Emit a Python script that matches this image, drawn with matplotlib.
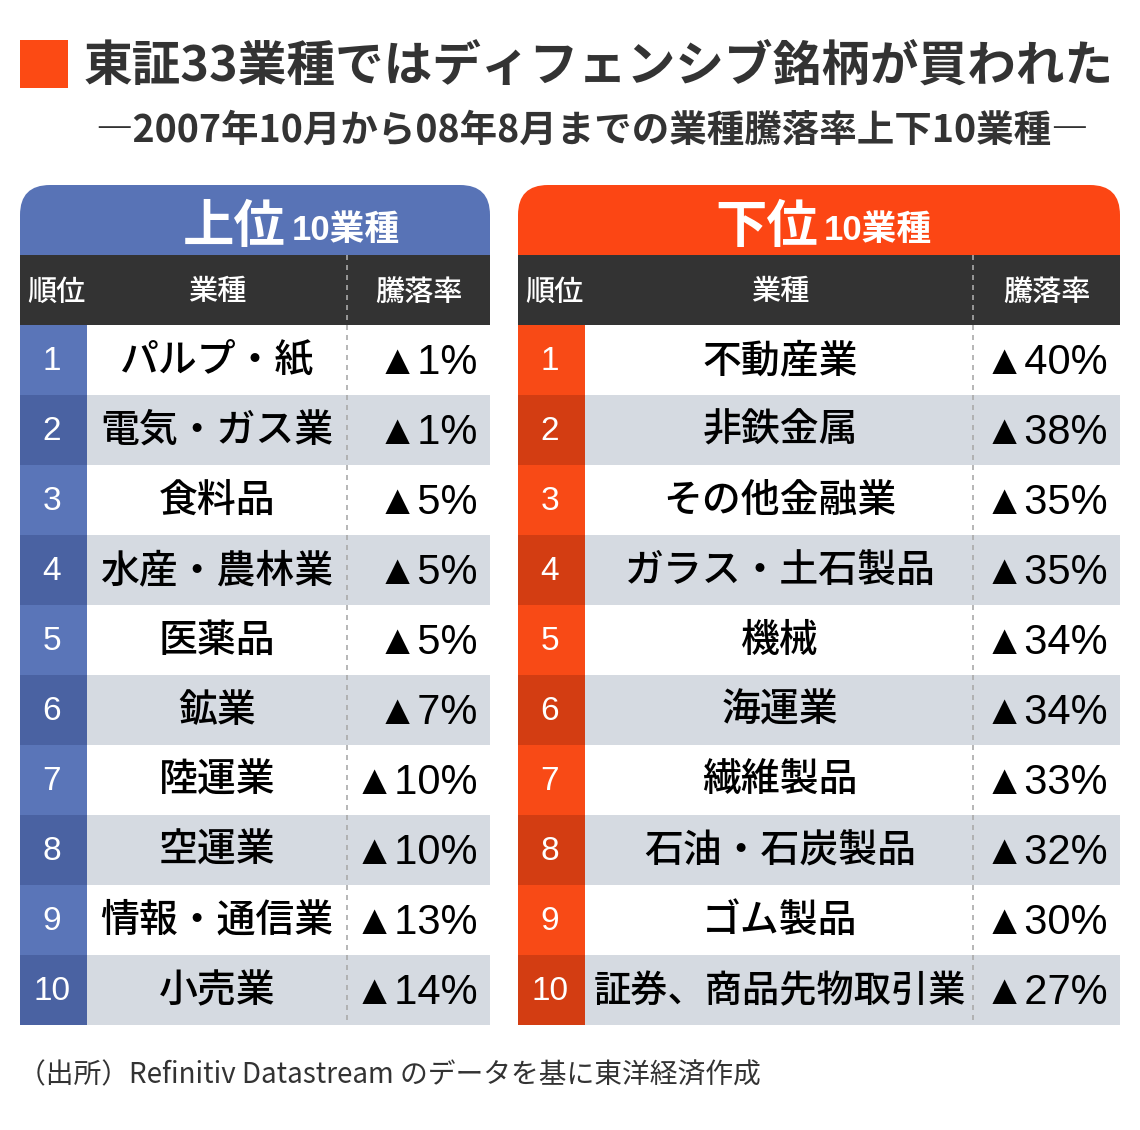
import matplotlib
matplotlib.use('Agg')
import matplotlib.pyplot as plt
from matplotlib.patches import Rectangle, FancyBboxPatch

plt.rcParams['font.family'] = ['Noto Sans CJK JP', 'DejaVu Sans']

# データ
title = '東証33業種ではディフェンシブ銘柄が買われた'
subtitle = '―2007年10月から08年8月までの業種騰落率上下10業種―'
source = '（出所）Refinitiv Datastream のデータを基に東洋経済作成'
col_labels = ['順位', '業種', '騰落率']
ranks = list(range(1, 11))
top_names = ['パルプ・紙', '電気・ガス業', '食料品', '水産・農林業', '医薬品',
             '鉱業', '陸運業', '空運業', '情報・通信業', '小売業']
top_vals = [1, 1, 5, 5, 5, 7, 10, 10, 13, 14]
bottom_names = ['不動産業', '非鉄金属', 'その他金融業', 'ガラス・土石製品', '機械',
                '海運業', '繊維製品', '石油・石炭製品', 'ゴム製品', '証券、商品先物取引業']
bottom_vals = [40, 38, 35, 35, 34, 34, 33, 32, 30, 27]

W, H = 1140, 1130
fig = plt.figure(figsize=(W / 100, H / 100), dpi=100)
ax = fig.add_axes([0, 0, 1, 1])
ax.set_xlim(0, W)
ax.set_ylim(H, 0)
ax.axis('off')
renderer = fig.canvas.get_renderer()

# タイトル
ax.add_patch(Rectangle((20, 40), 48, 48, color='#fc4a14', lw=0))
ax.text(84, 66, title, fontsize=35, fontweight='bold', color='#333333', va='center', ha='left')
ax.text(592, 130, subtitle, fontsize=27, fontweight='bold', color='#333333', va='center', ha='center')

HEAD_TOP, HEAD_BOT, COL_BOT = 185, 255, 325
ROW_H = 70


def draw_panel(x0, x1, xr, xd, color, rank_odd, rank_even, big, names, vals, name_x, rank_x, val_x, hdr_x):
    # 角丸ヘッダ
    ax.add_patch(FancyBboxPatch((x0 + 30, HEAD_TOP + 30), (x1 - x0) - 60, 60,
                                boxstyle='round,pad=30', color=color, lw=0))
    ax.add_patch(Rectangle((x0, HEAD_BOT), x1 - x0, COL_BOT - HEAD_BOT, color='#333333', lw=0))
    ax.text(hdr_x, 242, big, fontsize=37, fontweight='bold', color='white', ha='right', va='baseline')
    ax.text(hdr_x + 6, 240, '10業種', fontsize=25, fontweight='bold', color='white', ha='left', va='baseline',
            family=['Liberation Sans', 'Noto Sans CJK JP'])
    # 列見出し
    for lab, cx in zip(col_labels, [(x0 + xr) / 2 + 3, name_x, (xd + x1) / 2]):
        ax.text(cx, 292, lab, fontsize=21, fontweight='medium', color='white', ha='center', va='center')

    for i, (r, n, v) in enumerate(zip(ranks, names, vals)):
        y = COL_BOT + i * ROW_H
        even = (i % 2 == 1)
        ax.add_patch(Rectangle((x0, y), xr - x0, ROW_H, color=rank_even if even else rank_odd, lw=0))
        if even:
            ax.add_patch(Rectangle((xr, y), x1 - xr, ROW_H, color='#d5dae1', lw=0))
        ax.text(rank_x, y + ROW_H / 2 + 1, str(r), fontsize=24, color='white', ha='center', va='center',
                family=['Liberation Sans', 'DejaVu Sans'])
        t = ax.text(name_x, y + ROW_H / 2 + 1, n, fontsize=28, fontweight='medium', color='black',
                    ha='center', va='center')
        maxw = (xd - xr) - 16
        w = t.get_window_extent(renderer).width
        if w > maxw:
            t.set_fontsize(28 * maxw / w)
        ax.text(val_x, y + ROW_H / 2 + 3, '▲%d%%' % v, fontsize=30, color='black', ha='right', va='center',
                family=['Liberation Sans', 'Noto Sans CJK JP'])
    ax.plot([xd, xd], [HEAD_BOT, COL_BOT + 10 * ROW_H], color='#aaaaaa', lw=1.2, ls=(0, (3, 3)))


draw_panel(20, 490, 87, 347, '#5873b6', '#5a75b8', '#4a62a2', '上位', top_names, top_vals,
           217, 52, 478, 286)
draw_panel(518, 1120, 585, 973, '#fc4614', '#f84a16', '#d33d12', '下位', bottom_names, bottom_vals,
           780, 550, 1108, 818)

ax.text(18, 1075, source, fontsize=20, color='#333333', ha='left', va='center',
        family=['Noto Sans CJK JP', 'DejaVu Sans'])

fig.savefig('out.png', dpi=100)
